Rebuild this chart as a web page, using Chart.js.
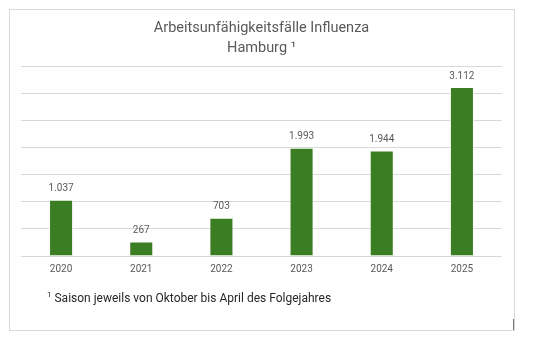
<!DOCTYPE html>
<html>
<head>
<meta charset="utf-8">
<script src="https://cdn.jsdelivr.net/npm/chart.js@4"></script>
<style>
  html, body { margin: 0; padding: 0; background: #fff; }
  #wrap { position: relative; width: 535px; height: 342px; }
  #box { position: absolute; left: 9px; top: 9px; width: 504px; height: 320px; border: 1px solid #d9d9d9; }
  #mark { position: absolute; left: 513px; top: 319px; width: 1px; height: 11px; background: #777; }
  #note { position: absolute; left: 47px; top: 290px; font: 12px Roboto, sans-serif; color: #262626; }
  #note sup { font-size: 8px; }
  canvas { position: absolute; left: 0; top: 0; }
</style>
</head>
<body>
<div id="wrap">
  <div id="box"></div>
  <div id="mark"></div>
  <canvas id="chart" width="535" height="342"></canvas>
  <div id="note"><sup>1</sup> Saison jeweils von Oktober bis April des Folgejahres</div>
</div>
<script>
const years = ["2020", "2021", "2022", "2023", "2024", "2025"];
const cases = [1037, 267, 703, 1993, 1944, 3112];
const titleLines = ["Arbeitsunfähigkeitsfälle Influenza", "Hamburg \u00B9"];

function deNum(n) {
  return n.toLocaleString("de-DE");
}

// Werte über den Balken
const valueLabels = {
  id: "valueLabels",
  afterDatasetsDraw(chart) {
    const ctx = chart.ctx;
    const meta = chart.getDatasetMeta(0);
    ctx.save();
    ctx.font = "10px Roboto, sans-serif";
    ctx.fillStyle = "#595959";
    ctx.textAlign = "center";
    ctx.textBaseline = "middle";
    meta.data.forEach((bar, i) => {
      ctx.fillText(deNum(cases[i]), bar.x, bar.y - 11);
    });
    ctx.restore();
  }
};

new Chart(document.getElementById("chart"), {
  type: "bar",
  data: {
    labels: years,
    datasets: [{
      data: cases,
      backgroundColor: "#3b7d23",
      borderColor: "rgba(255,255,255,0.7)",
      borderWidth: 1,
      categoryPercentage: 1,
      barPercentage: 0.3
    }]
  },
  options: {
    responsive: false,
    animation: false,
    layout: { padding: { left: 21, right: 33, top: 8, bottom: 60 } },
    plugins: {
      legend: { display: false },
      tooltip: { enabled: false },
      title: {
        display: true,
        text: titleLines,
        color: "#595959",
        font: { family: "Roboto, sans-serif", size: 14.5, weight: "normal", lineHeight: 1.38 },
        padding: { top: 10, bottom: 8 }
      }
    },
    scales: {
      x: {
        grid: { display: false, drawTicks: false },
        border: { display: false },
        ticks: { color: "#595959", font: { family: "Roboto, sans-serif", size: 10 }, padding: 7 }
      },
      y: {
        min: 0,
        max: 3500,
        ticks: { display: false, stepSize: 500 },
        grid: { color: "#d9d9d9", drawTicks: false },
        border: { display: false }
      }
    }
  },
  plugins: [valueLabels]
});
</script>
</body>
</html>
